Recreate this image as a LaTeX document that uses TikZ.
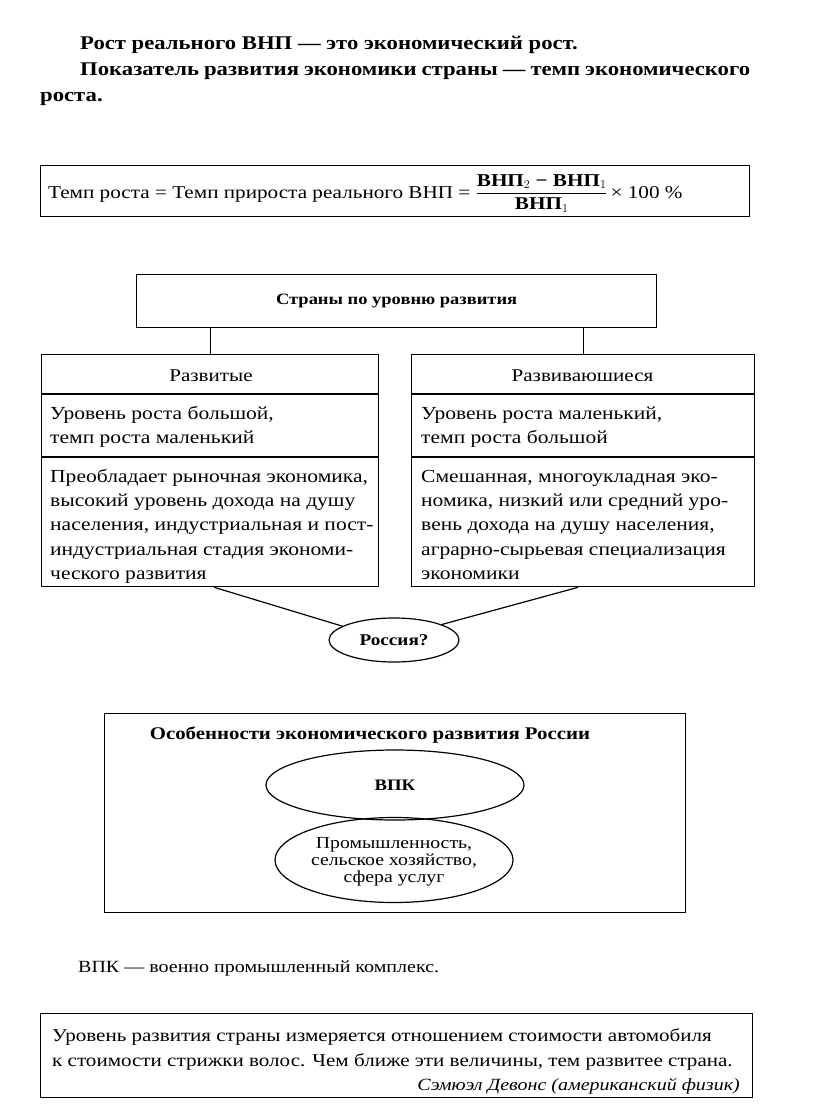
\documentclass[tikz,border=0pt]{standalone}
\usepackage{fontspec}
\setmainfont[FakeStretch=1.17]{Liberation Serif}
\usetikzlibrary{shapes.geometric}
\newcommand{\fs}[1]{\fontsize{#1}{#1}\selectfont}
\begin{document}
\begin{tikzpicture}[x=1pt,y=-1pt,
  box/.style={draw, line width=1.3pt, inner sep=0pt, anchor=north west},
  lnk/.style={line width=1.2pt},
  ell/.style={draw, ellipse, line width=1.2pt, inner sep=0pt},
  lead/.style={anchor=base west, inner sep=0pt, font=\fs{19.4}\bfseries},
  txt/.style={anchor=base west, inner sep=0pt, font=\fs{18.4}},
  btxt/.style={anchor=base west, inner sep=0pt, font=\fs{18}}]
\useasboundingbox (0,0) rectangle (816,1105);
\fill[white] (0,0) rectangle (816,1105);

% lead paragraph
\node[lead] (p1) at (80,50) {Рост реального ВНП — это экономический рост.};
\node[lead] (p2) at (80,76) {\hbox to 670pt{Показатель развития экономики страны — темп экономического}};
\node[lead] (p3) at (40,102) {роста.};

% formula box
\node[box, minimum width=709pt, minimum height=51pt] (fbox) at (40,165) {};
\node[anchor=base west, inner sep=0pt, font=\fs{18.1}] (form) at (48,198)
  {Темп роста = Темп прироста реального ВНП = $\displaystyle\frac{\mbox{\bfseries ВНП$_2$ − ВНП$_1$}}{\mbox{\bfseries ВНП$_1$}}$\,× 100 \%};

% top category box
\node[box, minimum width=520pt, minimum height=53pt] (top) at (136,274) {};
\node[inner sep=0pt, font=\fs{15.8}\bfseries] (toptxt) at (top.center) {Страны по уровню развития};

% left column
\node[box, minimum width=337pt, minimum height=232pt] (dev) at (41,354) {};
\draw[lnk] (dev.west |- 0,394) -- (dev.east |- 0,394);
\draw[lnk] (dev.west |- 0,457) -- (dev.east |- 0,457);
\node[anchor=base, inner sep=0pt, font=\fs{18}] (devh) at (211,381) {Развитые};
\node[txt] (d1) at (50,419) {Уровень роста большой,};
\node[txt] (d2) at (50,443) {темп роста маленький};
\node[txt] (d3) at (50,482) {Преобладает рыночная экономика,};
\node[txt] (d4) at (50,506) {высокий уровень дохода на душу};
\node[txt] (d5) at (50,530) {населения, индустриальная и пост-};
\node[txt] (d6) at (50,555) {индустриальная стадия экономи-};
\node[txt] (d7) at (50,579) {ческого развития};

% right column
\node[box, minimum width=343pt, minimum height=232pt] (dvg) at (411,354) {};
\draw[lnk] (dvg.west |- 0,394) -- (dvg.east |- 0,394);
\draw[lnk] (dvg.west |- 0,457) -- (dvg.east |- 0,457);
\node[anchor=base, inner sep=0pt, font=\fs{18}] (dvgh) at (582.5,381) {Развиваюшиеся};
\node[txt] (g1) at (421,419) {Уровень роста маленький,};
\node[txt] (g2) at (421,443) {темп роста большой};
\node[txt] (g3) at (421,482) {Смешанная, многоукладная эко-};
\node[txt] (g4) at (421,506) {номика, низкий или средний уро-};
\node[txt] (g5) at (421,530) {вень дохода на душу населения,};
\node[txt] (g6) at (421,555) {аграрно-сырьевая специализация};
\node[txt] (g7) at (421,579) {экономики};

\draw[lnk] (dev.north |- top.south) -- (dev.north);
\draw[lnk] (dvg.north |- top.south) -- (dvg.north);

% Russia?
\node[ell, minimum width=130pt, minimum height=44pt, font=\fs{16.4}\bfseries] (rus) at (394,640) {Россия?};
\draw[lnk] ([xshift=4pt]dev.south) -- (rus.165);
\draw[lnk] ([xshift=-5pt]dvg.south) -- (rus.18);

% features of Russia
\node[box, minimum width=581pt, minimum height=199pt] (feat) at (104,713) {};
\node[anchor=base, inner sep=0pt, font=\fs{17.8}\bfseries] (feath) at (370,739) {Особенности экономического развития России};
\node[ell, minimum width=258pt, minimum height=70pt, font=\fs{16}\bfseries] (vpk) at (395,785) {ВПК};
\node[ell, minimum width=238pt, minimum height=85pt, align=center, font=\fs{16.9}, text depth=0pt] (prom) at (394,860)
  {\baselineskip=21pt Промышленность,\\сельское хозяйство,\\сфера услуг};

% definition
\node[anchor=base west, inner sep=0pt, font=\fs{17.1}] (vdef) at (78,972) {ВПК — военно промышленный комплекс.};

% quote box
\node[box, minimum width=712pt, minimum height=84pt] (qbox) at (40,1013) {};
\node[btxt] (q1) at (52,1041) {Уровень развития страны измеряется отношением стоимости автомобиля};
\node[btxt] (q2) at (52,1066) {к стоимости стрижки волос. Чем ближе эти величины, тем развитее страна.};
\node[anchor=base east, inner sep=0pt, font=\fs{17.1}\itshape] (q3) at (740,1090) {Сэмюэл Девонс (американский физик)};
\end{tikzpicture}
\end{document}
